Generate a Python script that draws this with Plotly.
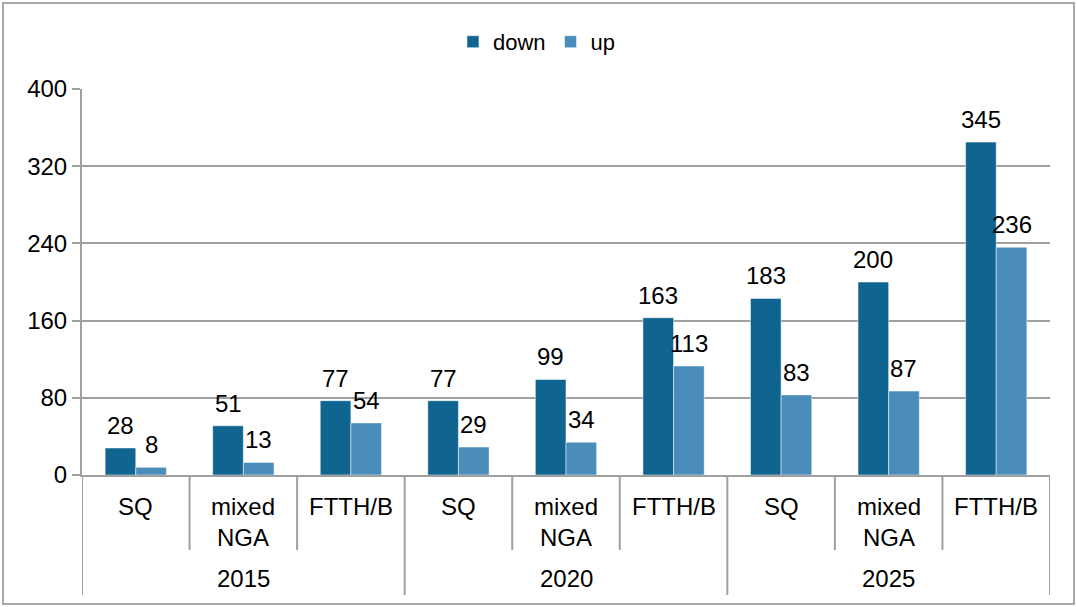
import plotly.graph_objects as go

years = ["2015", "2020", "2025"]
techs = ["SQ", "mixed<br>NGA", "FTTH/B"]
down = [28, 51, 77, 77, 99, 163, 183, 200, 345]
up = [8, 13, 54, 29, 34, 113, 83, 87, 236]
yticks = [0, 80, 160, 240, 320, 400]

C_DOWN = "#106590"
C_UP = "#4a8cba"
GRID = "#a0a0a0"
FONT = "Liberation Sans, Arial, sans-serif"
FS = 24

n = len(down)
idx = list(range(n))
BARGAP = 0.43
bw = (1 - BARGAP) / 2

fig = go.Figure()
fig.add_trace(go.Bar(x=idx, y=down, name="down", marker=dict(color=C_DOWN, line=dict(color="rgba(255,255,255,0.5)", width=1))))
fig.add_trace(go.Bar(x=idx, y=up, name="up", marker=dict(color=C_UP, line=dict(color="rgba(255,255,255,0.5)", width=1))))

ann = []
for i in idx:
    ann.append(dict(x=i - bw / 2, y=down[i], xref="x", yref="y", text=str(down[i]), showarrow=False,
                    yanchor="bottom", yshift=7, font=dict(size=FS, color="black", family=FONT)))
    ann.append(dict(x=i + bw / 2, y=up[i], xref="x", yref="y", text=str(up[i]), showarrow=False,
                    yanchor="bottom", yshift=7, font=dict(size=FS, color="black", family=FONT)))

plot_h = 386.0
inner_lab_y = -16 / plot_h
inner_sep_y = -75 / plot_h
outer_sep_y = -120 / plot_h
year_lab_y = -103 / plot_h

shapes = []
ntech = len(techs)
for g, yr in enumerate(years):
    for t, tech in enumerate(techs):
        i = g * ntech + t
        ann.append(dict(x=i, y=inner_lab_y, xref="x", yref="paper", text=tech, showarrow=False,
                        yanchor="top", font=dict(size=FS, color="black", family=FONT)))
        if t > 0:
            shapes.append(dict(type="line", xref="x", yref="paper", x0=i - 0.5, x1=i - 0.5,
                               y0=0, y1=inner_sep_y, line=dict(color=GRID, width=2)))
    center = g * ntech + (ntech - 1) / 2
    ann.append(dict(x=center, y=year_lab_y, xref="x", yref="paper", text=yr, showarrow=False,
                    yanchor="middle", font=dict(size=FS, color="black", family=FONT)))
for g in range(len(years) + 1):
    xb = g * ntech - 0.5
    shapes.append(dict(type="line", xref="x", yref="paper", x0=xb, x1=xb,
                       y0=0, y1=outer_sep_y, line=dict(color=GRID, width=2)))

shapes.append(dict(type="rect", xref="paper", yref="paper",
                   x0=-79 / 968, x1=992 / 968, y0=-129 / plot_h, y1=472 / plot_h,
                   line=dict(color="#a8a8a8", width=2), fillcolor="rgba(0,0,0,0)", layer="below"))

fig.update_layout(
    width=1077, height=607,
    margin=dict(l=82, r=27, t=89, b=132),
    paper_bgcolor="white", plot_bgcolor="white",
    barmode="group", bargap=BARGAP, bargroupgap=0,
    font=dict(family=FONT, size=FS, color="black"),
    showlegend=True,
    legend=dict(orientation="h", x=0.47, xanchor="center", y=1.122, yanchor="middle",
                font=dict(size=22, color="black", family=FONT), bgcolor="rgba(0,0,0,0)"),
    annotations=ann, shapes=shapes,
)
fig.update_xaxes(range=[-0.5, n - 0.5], showticklabels=False, showgrid=False, zeroline=False,
                 showline=True, linecolor=GRID, linewidth=2, ticks="")
fig.update_yaxes(range=[0, 400], tickvals=yticks, showgrid=True, gridcolor=GRID, gridwidth=2,
                 zeroline=False, showline=True, linecolor=GRID, linewidth=2,
                 ticks="outside", ticklen=8, tickcolor=GRID, tickwidth=2,
                 tickfont=dict(size=FS, color="black", family=FONT))

fig.write_html("out.html", config={"displayModeBar": False},
               post_script="document.body.style.margin='0';document.body.style.overflow='hidden';")
